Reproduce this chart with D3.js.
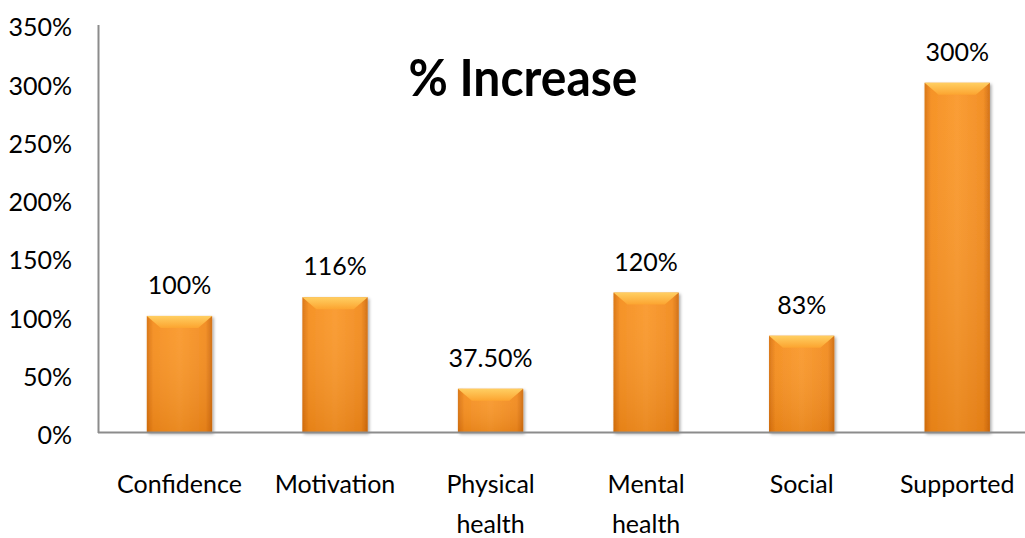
<!DOCTYPE html>
<html>
<head>
<meta charset="utf-8">
<script src="https://cdn.jsdelivr.net/npm/d3@7"></script>
<style>
  html, body { margin: 0; padding: 0; background: #ffffff; }
  svg { display: block; }
</style>
</head>
<body>
<svg id="chart" width="1025" height="538"></svg>
<script>
// Categories (multi-line labels) and percentage increases
const categories = ["Confidence", "Motivation", "Physical\nhealth", "Mental\nhealth", "Social", "Supported"];
const increases = [100, 116, 37.5, 120, 83, 300];
const tickValues = [0, 50, 100, 150, 200, 250, 300, 350];

const svg = d3.select("#chart");
const W = 1025, H = 538;
const axisX = 98;
const font = "Lato, 'Open Sans', sans-serif";

const x = d3.scaleBand()
  .domain(categories)
  .range([101.7, 1035])
  .paddingInner(0.58)
  .paddingOuter(0.29);

const y = d3.scaleLinear()
  .domain([0, 350])
  .range([432.5, 24.5]);

// Gradients and shadow for the bevelled bars
const defs = svg.append("defs");
const body = defs.append("linearGradient").attr("id", "barBody")
  .attr("x1", "0").attr("x2", "1").attr("y1", "0").attr("y2", "0");
body.append("stop").attr("offset", "0%").attr("stop-color", "#d8700c");
body.append("stop").attr("offset", "10%").attr("stop-color", "#f58d1c");
body.append("stop").attr("offset", "50%").attr("stop-color", "#fa982a");
body.append("stop").attr("offset", "90%").attr("stop-color", "#f28a1c");
body.append("stop").attr("offset", "100%").attr("stop-color", "#cf6a0c");

const shade = defs.append("linearGradient").attr("id", "barShade")
  .attr("x1", "0").attr("x2", "0").attr("y1", "0").attr("y2", "1");
shade.append("stop").attr("offset", "0%").attr("stop-color", "#ffffff").attr("stop-opacity", 0.05);
shade.append("stop").attr("offset", "100%").attr("stop-color", "#a04a00").attr("stop-opacity", 0.18);

const bevel = defs.append("linearGradient").attr("id", "barBevel")
  .attr("x1", "0").attr("x2", "0").attr("y1", "0").attr("y2", "1");
bevel.append("stop").attr("offset", "0%").attr("stop-color", "#ffcf62");
bevel.append("stop").attr("offset", "100%").attr("stop-color", "#fca430");

const shadow = defs.append("filter").attr("id", "barShadow")
  .attr("x", "-20%").attr("y", "-20%").attr("width", "140%").attr("height", "140%");
shadow.append("feDropShadow").attr("dx", 1.5).attr("dy", 1.5)
  .attr("stdDeviation", 1.8).attr("flood-color", "#000").attr("flood-opacity", 0.35);

// Y axis
const yAxis = svg.append("g")
  .attr("transform", `translate(${axisX},0)`)
  .call(d3.axisLeft(y).tickValues(tickValues).tickSize(0).tickPadding(26)
    .tickFormat(d => d + "%"));
yAxis.select(".domain").attr("stroke", "#8c8c8c").attr("stroke-width", 2);
yAxis.selectAll("text")
  .attr("font-family", font).attr("font-size", 25).attr("fill", "#000")
  .attr("dy", "0.45em");

// Bars
const bars = svg.append("g").selectAll("g.bar")
  .data(categories.map((c, i) => ({ c, v: increases[i] })))
  .join("g").attr("class", "bar");

bars.append("rect")
  .attr("x", d => x(d.c))
  .attr("y", d => y(d.v))
  .attr("width", x.bandwidth())
  .attr("height", d => y(0) - y(d.v))
  .attr("fill", "url(#barBody)")
  .attr("filter", "url(#barShadow)");

bars.append("rect")
  .attr("x", d => x(d.c))
  .attr("y", d => y(d.v))
  .attr("width", x.bandwidth())
  .attr("height", d => y(0) - y(d.v))
  .attr("fill", "url(#barShade)");

bars.append("path")
  .attr("d", d => {
    const x0 = x(d.c), x1 = x0 + x.bandwidth(), t = y(d.v), b = 12, ins = 14;
    return `M${x0},${t}L${x1},${t}L${x1 - ins},${t + b}L${x0 + ins},${t + b}Z`;
  })
  .attr("fill", "url(#barBevel)");

// X axis baseline
svg.append("line")
  .attr("x1", axisX).attr("x2", W)
  .attr("y1", y(0)).attr("y2", y(0))
  .attr("stroke", "#8c8c8c").attr("stroke-width", 2);

// Value labels
bars.append("text")
  .attr("x", d => x(d.c) + x.bandwidth() / 2)
  .attr("y", d => y(d.v) - 22)
  .attr("text-anchor", "middle")
  .attr("font-family", font).attr("font-size", 25).attr("fill", "#000")
  .text(d => (d.v % 1 ? d.v.toFixed(2) : d.v) + "%");

// Category labels
const catLabels = svg.append("g").selectAll("text")
  .data(categories)
  .join("text")
  .attr("x", d => x(d) + x.bandwidth() / 2)
  .attr("y", 493)
  .attr("text-anchor", "middle")
  .attr("font-family", font).attr("font-size", 25).attr("fill", "#000");
catLabels.selectAll("tspan")
  .data(d => d.split("\n"))
  .join("tspan")
  .attr("x", function () { return d3.select(this.parentNode).attr("x"); })
  .attr("dy", (d, i) => i === 0 ? 0 : 40)
  .text(d => d);

// Title
svg.append("text")
  .attr("x", 523).attr("y", 96)
  .attr("text-anchor", "middle")
  .attr("font-family", font).attr("font-weight", "bold").attr("font-size", 52)
  .attr("textLength", 229).attr("lengthAdjust", "spacingAndGlyphs")
  .attr("fill", "#000")
  .text("% Increase");
</script>
</body>
</html>
